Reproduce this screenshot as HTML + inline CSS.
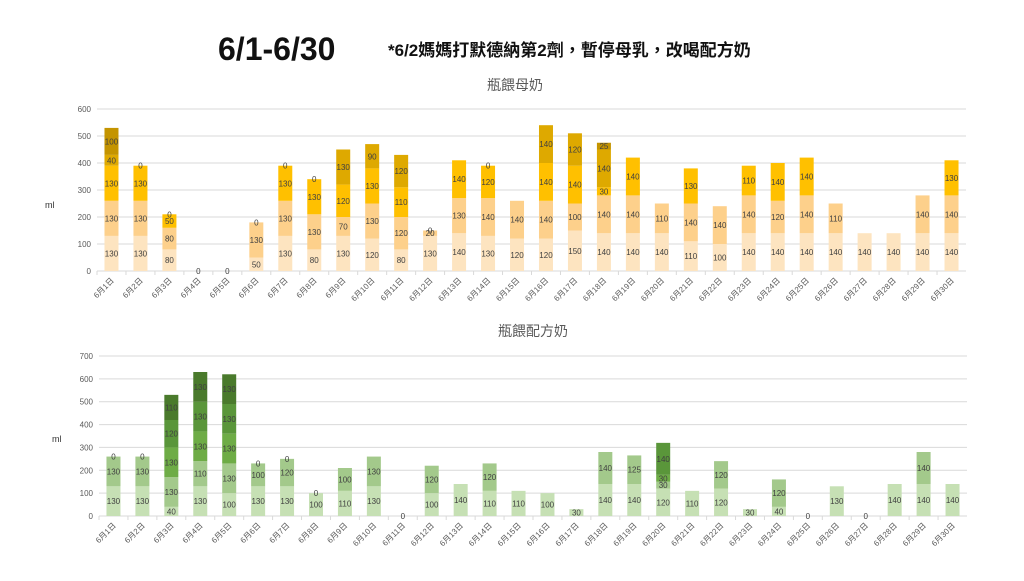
<!DOCTYPE html>
<html><head><meta charset="utf-8"><style>
body{margin:0;background:#fff;width:1024px;height:576px;overflow:hidden;font-family:"Liberation Sans","Noto Sans CJK TC",sans-serif}
</style></head><body>
<svg id="s" width="1024" height="576" xmlns="http://www.w3.org/2000/svg" font-family="Liberation Sans, Noto Sans CJK TC, sans-serif">
<text x="218" y="60" font-size="32" font-weight="bold" fill="#111">6/1-6/30</text>
<text x="388" y="56" font-size="17" font-weight="bold" fill="#111">*6/2媽媽打默德納第2劑，暫停母乳，改喝配方奶</text>
<text x="515" y="90" font-size="14" fill="#595959" text-anchor="middle">瓶餵母奶</text>
<text x="533" y="336" font-size="14" fill="#595959" text-anchor="middle">瓶餵配方奶</text>
<text x="45" y="208" font-size="9" fill="#333">ml</text>
<text x="52" y="442" font-size="9" fill="#333">ml</text>
</svg>
<script>
const days=[];for(let i=1;i<=30;i++)days.push('6月'+i+'日');
const milkS1=[130,130,80,0,0,50,130,80,130,120,80,130,140,130,120,120,150,140,140,140,110,100,140,140,140,140,140,140,140,140];
const milkS2=[130,130,80,null,null,130,130,130,70,130,120,20,130,140,140,140,100,140,140,110,140,140,140,120,140,110,null,null,140,140];
const milkS3=[130,130,50,null,null,0,130,130,120,130,110,0,140,120,null,140,140,30,140,null,130,null,110,140,140,null,null,null,null,130];
const milkS4=[40,0,0,null,null,null,0,0,130,90,120,null,null,0,null,140,120,140,null,null,null,null,null,null,null,null,null,null,null,null];
const milkS5=[100,null,null,null,null,null,null,null,null,null,null,null,null,null,null,null,null,25,null,null,null,null,null,null,null,null,null,null,null,null];
const milkTicks=[0,100,200,300,400,500,600];
const fS1=[130,130,40,130,100,130,130,100,110,130,0,100,140,110,110,100,30,140,140,120,110,120,30,40,0,130,0,140,140,140];
const fS2=[130,130,130,110,130,100,120,0,100,130,null,120,null,120,null,null,null,140,125,30,null,120,null,120,null,null,null,null,140,null];
const fS3=[0,0,130,130,130,0,0,null,null,null,null,null,null,null,null,null,null,null,null,30,null,null,null,null,null,null,null,null,null,null];
const fS4=[null,null,120,130,130,null,null,null,null,null,null,null,null,null,null,null,null,null,null,140,null,null,null,null,null,null,null,null,null,null];
const fS5=[null,null,110,130,130,null,null,null,null,null,null,null,null,null,null,null,null,null,null,null,null,null,null,null,null,null,null,null,null,null];
const fTicks=[0,100,200,300,400,500,600,700];
const NS='http://www.w3.org/2000/svg';const svg=document.getElementById('s');
function mk(t,a,p){const e=document.createElementNS(NS,t);for(const k in a)e.setAttribute(k,a[k]);(p||svg).appendChild(e);return e;}
function chart(cfg){
 const g=mk('g',{});
 
 
 const y=v=>cfg.y0-(v/cfg.max)*(cfg.y0-cfg.yTop);
 const bw=(cfg.x1-cfg.x0)/days.length;
 const xc=i=>cfg.x0+bw*(i+0.5);
 cfg.ticks.forEach(t=>{
  const l=mk('line',{x1:cfg.x0,x2:cfg.x1,y1:y(t),y2:y(t),stroke:'#d9d9d9','stroke-width':1},g);
  
  
  const tx=mk('text',{x:cfg.x0-6,y:y(t)+3,'font-size':8,fill:'#595959','text-anchor':'end'},g);
  
  
  tx.textContent=t;
 });
 days.forEach((d,i)=>{
  let base=0;
  cfg.series.forEach((s,si)=>{
   const v=s[i];if(v===null)return;
   if(v>0){const r=mk('rect',{x:xc(i)-7,y:y(base+v),width:14,height:y(base)-y(base+v),fill:cfg.colors[si]},g);
    
    }
   const tx=mk('text',{x:xc(i),y:(y(base)+y(base+v))/2+3,'font-size':8,fill:'#404040','text-anchor':'middle'},g);
   
   
   tx.textContent=v;
   base+=v;
  });
  const tk=mk('line',{x1:cfg.x0+bw*i,x2:cfg.x0+bw*i,y1:cfg.y0,y2:cfg.y0+4,stroke:'#d9d9d9'},g);
  
  
  const lx=xc(i)+3,ly=cfg.y0+10;
  const lb=mk('text',{x:lx,y:ly,'font-size':8,fill:'#595959','text-anchor':'end',transform:`rotate(-45 ${lx} ${ly})`},g);
  
  
  lb.textContent=d;
 });
}
chart({name:'breast-milk-chart',x0:97,x1:966,y0:271,yTop:109,max:600,ticks:milkTicks,series:[milkS1,milkS2,milkS3,milkS4,milkS5],colors:['#fde4c0','#fdd08b','#ffc000','#dea900','#c49400']});
chart({name:'formula-chart',x0:99,x1:967,y0:516,yTop:356,max:700,ticks:fTicks,series:[fS1,fS2,fS3,fS4,fS5],colors:['#c6e0b4','#a3c98b','#6eac46','#5a963a','#4a7a2c']});
</script>
</body></html>
